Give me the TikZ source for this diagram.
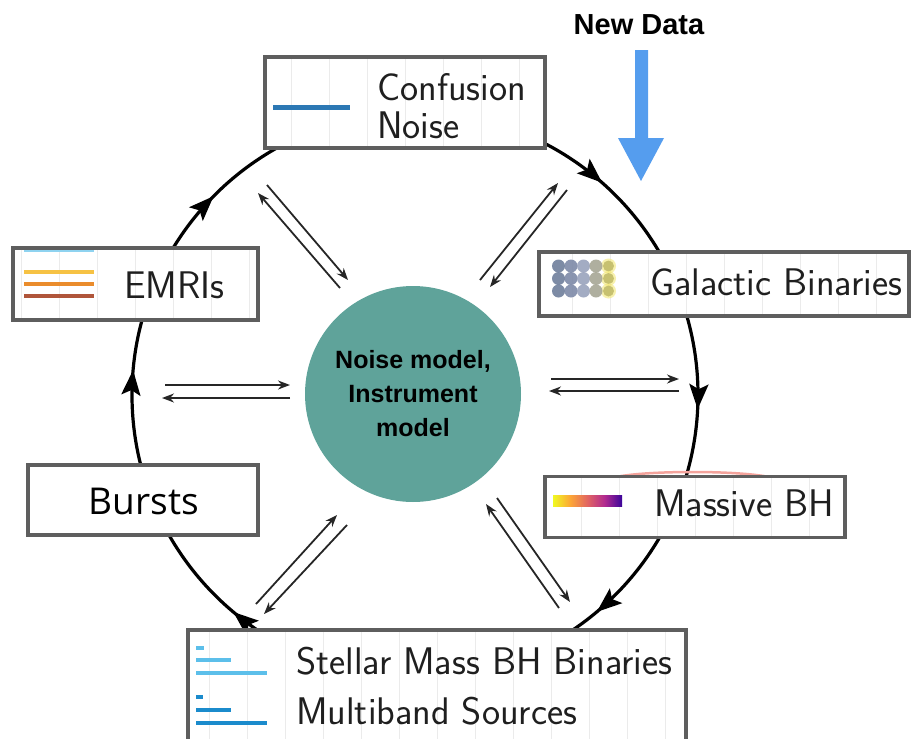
\documentclass[tikz,border=0pt]{standalone}
\usepackage{fontspec}
\newfontfamily\headfont{Liberation Sans}
\newfontfamily\burstfont{Open Sans}
\usetikzlibrary{arrows.meta,decorations.markings}

\definecolor{framegray}{HTML}{5E5E5E}
\definecolor{coreteal}{HTML}{5FA39A}
\definecolor{datablue}{HTML}{559DEE}
\definecolor{confblue}{HTML}{2C78B4}
\definecolor{emriblue}{HTML}{8FD3F0}
\definecolor{emriyellow}{HTML}{F6C244}
\definecolor{emriorange}{HTML}{EA8C2C}
\definecolor{emribrown}{HTML}{B0553A}
\definecolor{sobhlight}{HTML}{5CBFEA}
\definecolor{sobhdark}{HTML}{1B8BCC}
\definecolor{gb1}{HTML}{6F7F9C}
\definecolor{gb2}{HTML}{7E8AA8}
\definecolor{gb3}{HTML}{9AA3BD}
\definecolor{gb4}{HTML}{A7A795}
\definecolor{gb5}{HTML}{C2BC6A}
\definecolor{gbglow}{HTML}{F2E66A}
\definecolor{pl1}{HTML}{F0F921}
\definecolor{pl2}{HTML}{FCA636}
\definecolor{pl3}{HTML}{E16462}
\definecolor{pl4}{HTML}{B12A90}
\definecolor{pl5}{HTML}{3A049A}
\definecolor{mbhred}{HTML}{F4A39C}

\pgfdeclarehorizontalshading{plasmabar}{100bp}{color(0bp)=(pl1); color(25bp)=(pl1); color(37.5bp)=(pl2); color(50bp)=(pl3); color(62.5bp)=(pl4); color(75bp)=(pl5); color(100bp)=(pl5)}

\begin{document}
\begin{tikzpicture}[x=1pt,y=-1pt,
  gridline/.style={draw=black!8, line width=0.7pt},
  gridded/.style={path picture={\draw[gridline, xstep=38, ystep=21]
      (path picture bounding box.north west) grid (path picture bounding box.south east);}},
  legendbox/.style={rectangle, draw=framegray, line width=3.5pt, fill=white, inner sep=0pt},
  legendtext/.style={font=\sffamily\fontsize{38.5}{38.5}\selectfont, anchor=west, inner sep=0pt, align=left, text=black!88},
  ringline/.style={line width=3.2pt},
  ringtip/.tip={Stealth[length=25pt,width=19pt,inset=5pt]},
  pair/.style={line width=1.8pt, draw=black!85, -{Stealth[length=12pt,width=9pt]}},
  iconbar/.style={line width=4.5pt}]

\useasboundingbox (0,0) rectangle (911,739);
\clip (0,0) rectangle (911,739);

% clockwise analysis cycle
\coordinate (ring) at (415,395);
\draw[ringline, postaction={decorate}, decoration={markings,
    mark=at position 0.115 with {\arrow{ringtip}},
    mark=at position 0.258 with {\arrow{ringtip}},
    mark=at position 0.389 with {\arrow{ringtip}},
    mark=at position 0.611 with {\arrow{ringtip}},
    mark=at position 0.764 with {\arrow{ringtip}},
    mark=at position 0.874 with {\arrow{ringtip}}}]
  (ring) ++(-90:283) arc[start angle=-90, end angle=270, radius=283];

% central model
\node[circle, fill=coreteal, minimum size=216, inner sep=0pt,
      font=\headfont\bfseries\fontsize{25}{34}\selectfont, align=center]
  (core) at (413,394) {Noise model,\\Instrument\\model};

% exchange arrows between the sources and the central model
\coordinate (ulA1) at (267,185); \coordinate (ulA2) at (348,280);
\coordinate (ulB1) at (340,288); \coordinate (ulB2) at (258,193);
\draw[pair] (ulA1) -- (ulA2);
\draw[pair] (ulB1) -- (ulB2);

\coordinate (urA1) at (480,280); \coordinate (urA2) at (558,183);
\coordinate (urB1) at (567,190); \coordinate (urB2) at (490,287);
\draw[pair] (urA1) -- (urA2);
\draw[pair] (urB1) -- (urB2);

\coordinate (lA1) at (165,385); \coordinate (lA2) at (290,385);
\coordinate (lB1) at (290,398); \coordinate (lB2) at (162,398);
\draw[pair] (lA1) -- (lA2);
\draw[pair] (lB1) -- (lB2);

\coordinate (rA1) at (551,379); \coordinate (rA2) at (679,379);
\coordinate (rB1) at (679,391); \coordinate (rB2) at (549,391);
\draw[pair] (rA1) -- (rA2);
\draw[pair] (rB1) -- (rB2);

\coordinate (llA1) at (347,525); \coordinate (llA2) at (264,614);
\coordinate (llB1) at (256,604); \coordinate (llB2) at (337,515);
\draw[pair] (llA1) -- (llA2);
\draw[pair] (llB1) -- (llB2);

\coordinate (lrA1) at (497,498); \coordinate (lrA2) at (570,602);
\coordinate (lrB1) at (559,608); \coordinate (lrB2) at (486,504);
\draw[pair] (lrA1) -- (lrA2);
\draw[pair] (lrB1) -- (lrB2);

% red curve peeking above the Massive BH legend
\draw[mbhred, line width=2.5pt] (612,478) .. controls (640,470) and (745,470) .. (773,478);

% legend boxes
\node[legendbox, gridded, minimum width=280, minimum height=91] (conf) at (405,102.5) {};
\node[legendbox, gridded, minimum width=370, minimum height=64] (gal) at (724,284) {};
\node[legendbox, gridded, minimum width=245, minimum height=72] (emri) at (135.5,284) {};
\node[legendbox, minimum width=230, minimum height=70] (burst) at (143,500) {};
\node[legendbox, gridded, minimum width=300, minimum height=61] (mbh) at (695,507) {};
\node[legendbox, gridded, minimum width=498, minimum height=130] (sobh) at (437,695) {};

% legend icons
\draw[confblue, line width=5pt] (273,107) -- (350,107);

\draw[emriblue, line width=2.5pt] (24,251) -- (94,251);
\draw[emriyellow, iconbar] (24,272) -- (94,272);
\draw[emriorange, iconbar] (24,284) -- (94,284);
\draw[emribrown, iconbar] (24,296) -- (94,296);

\foreach \r in {266,278.5,291} {
  \fill[gbglow, opacity=0.55] (608.5,\r) circle[radius=7.5];
  \fill[gb1, opacity=0.9] (558.5,\r) circle[radius=6.5];
  \fill[gb2, opacity=0.9] (571,\r) circle[radius=6.5];
  \fill[gb3, opacity=0.9] (583.5,\r) circle[radius=6.5];
  \fill[gb4, opacity=0.9] (596,\r) circle[radius=6.5];
  \fill[gb5, opacity=0.9] (608.5,\r) circle[radius=5.5];
}

\shade[shading=plasmabar] (553,495) rectangle (622,506);

\draw[sobhlight, line width=4pt] (196,648) -- (204,648);
\draw[sobhlight, line width=4pt] (196,660) -- (231,660);
\draw[sobhlight, line width=4.5pt] (196,673) -- (267,673);
\draw[sobhdark, line width=4pt] (196,697) -- (203,697);
\draw[sobhdark, line width=4pt] (196,710) -- (231,710);
\draw[sobhdark, line width=4.5pt] (196,723) -- (267,723);

% legend labels
\node[legendtext] (confT) at (377,106) {Confusion\\Noise};
\node[legendtext] (galT) at (650,282) {Galactic Binaries};
\node[legendtext] (emriT) at (124,285) {EMRIs};
\node[font=\burstfont\fontsize{37}{37}\selectfont, inner sep=0pt] (burstT) at (144,501) {Bursts};
\node[legendtext] (mbhT) at (654,503) {Massive BH};
\node[legendtext] (sobhT) at (296,661) {Stellar Mass BH Binaries};
\node[legendtext] (mbT) at (296,711) {Multiband Sources};

% incoming data
\node[font=\headfont\bfseries\fontsize{29}{29}\selectfont, inner sep=0pt] (newdata) at (639,25) {New Data};
\fill[datablue] (635,50) -- (648,50) -- (648,138) -- (664,138) -- (641,181)
  -- (618,138) -- (635,138) -- cycle;

\end{tikzpicture}
\end{document}
